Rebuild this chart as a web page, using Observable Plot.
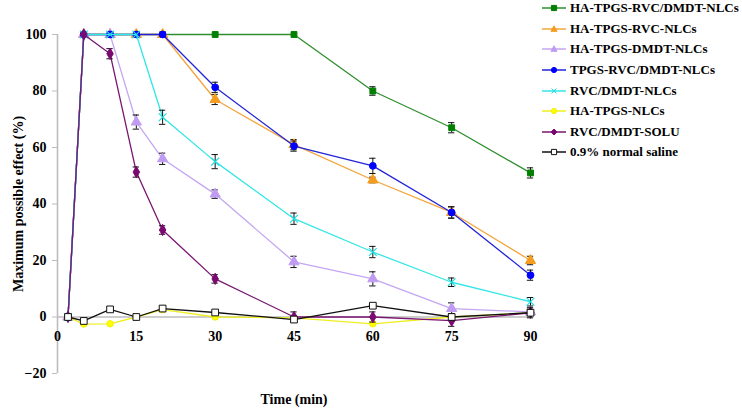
<!DOCTYPE html>
<html><head><meta charset="utf-8">
<script src="https://cdn.jsdelivr.net/npm/d3@7"></script>
<script src="https://cdn.jsdelivr.net/npm/@observablehq/plot@0.6"></script>
<style>
body{margin:0;background:#fff;font-family:'Liberation Serif';font-weight:bold;font-size:14px;}
#wrap{position:relative;width:742px;height:408px;}
#legend{position:absolute;left:542px;top:-2px;color:#000;font-size:13px;}
.row{display:flex;align-items:center;height:20.6px;white-space:nowrap;}
.row svg{margin-right:3px;}
</style></head>
<body><div id="wrap"><div id="chart"></div><div id="legend"></div></div>
<script>
const times = [2, 5, 10, 15, 20, 30, 45, 60, 75, 90];
const seriesNames = ["HA-TPGS-RVC/DMDT-NLCs","HA-TPGS-RVC-NLCs","HA-TPGS-DMDT-NLCs","TPGS-RVC/DMDT-NLCs","RVC/DMDT-NLCs","HA-TPGS-NLCs","RVC/DMDT-SOLU","0.9% normal saline"];
const greenVals   = [0,100,100,100,100,100,100,80,67,51];
const greenErr    = [0,0,0,0,0,0,0,1.5,1.8,1.8];
const orangeVals  = [0,100,100,100,100,77,61,48.5,37,20];
const orangeErr   = [0,0,0,0,0,1.8,1.8,1,2,1.5];
const lavVals     = [0,100,100,69,56,43.5,19.5,13.5,3,1.8];
const lavErr      = [0,0,0,2.5,2,1.5,2,2.5,2,1];
const blueVals    = [0,100,100,100,100,81.3,60.5,53.5,37,14.8];
const blueErr     = [0,0,0,0,0,1.8,1.8,2.7,2,1.8];
const cyanVals    = [0,100,100,100,70.7,55,34.8,23,12.3,5.4];
const cyanErr     = [0,0,0,0,2.5,2.5,2,2,1.5,1.5];
const yellowVals  = [0,-2.5,-2.4,0,2.6,0,-0.3,-2.4,0,1.5];
const yellowErr   = [0,0,0,0,0,0,0,0,0,0];
const purpleVals  = [0,100,93.2,51.3,30.8,13.5,0,0,-1.3,1.5];
const purpleErr   = [0,0,1.8,1.8,1.5,1.5,1.8,1.8,2,1];
const salineVals  = [0,-1.4,2.7,0,3,1.6,-0.9,4,0,1.5];
const salineErr   = [0,0,0,0,0,0,0,0,1.2,1.8];
const xTicks = [0,15,30,45,60,75,90];
const yTicks = [-20,0,20,40,60,80,100];

const styles = [
  {vals: greenVals, err: greenErr, line:"#2f8f2f", fill:"#008000", stroke:"#008000", symbol:"square", r:3.3},
  {vals: orangeVals, err: orangeErr, line:"#f4a43c", fill:"#f39c1e", stroke:"#f39c1e", symbol:"triangle", r:3.8},
  {vals: lavVals, err: lavErr, line:"#c4a6f2", fill:"#bf9cf2", stroke:"#bf9cf2", symbol:"triangle", r:3.8},
  {vals: blueVals, err: blueErr, line:"#2323d8", fill:"#0000ff", stroke:"#0000ff", symbol:"circle", r:3.4},
  {vals: cyanVals, err: cyanErr, line:"#33e6e6", fill:"none", stroke:"#22dede", symbol:"times", r:3.6},
  {vals: yellowVals, err: yellowErr, line:"#eeee22", fill:"#ffff00", stroke:"#f0f000", symbol:"circle", r:3.2},
  {vals: purpleVals, err: purpleErr, line:"#7a1572", fill:"#7a0a70", stroke:"#7a0a70", symbol:"diamond", r:3.4},
  {vals: salineVals, err: salineErr, line:"#111", fill:"#fff", stroke:"#111", symbol:"square", r:3.8}
];

const marks = [];
const gray = "#bdbdbd";
marks.push(Plot.ruleY([0], {stroke: gray, strokeWidth: 1.6}));
marks.push(Plot.ruleX([0], {y1: -20, y2: 100, stroke: gray, strokeWidth: 1.6}));
marks.push(Plot.axisY({ticks: yTicks, tickSize: 5, stroke: gray, tickPadding: 6, fill: "#000",
  label: "Maximum possible effect (%)", labelAnchor: "center", labelArrow: "none", labelOffset: 44}));
marks.push(Plot.text(xTicks, {x: d => d, y: 0, dy: 20, text: d => String(d), fill: "#000"}));
marks.push(Plot.axisX({ticks: [], tickSize: 0, label: "Time (min)", labelAnchor: "center", labelArrow: "none", labelOffset: 30}));

styles.forEach((s, i) => {
  const rows = times.map((t, j) => ({t, v: s.vals[j], e: s.err[j], name: seriesNames[i]}));
  const eb = rows.filter(d => d.e > 0);
  marks.push(Plot.line(rows, {x: "t", y: "v", stroke: s.line, strokeWidth: 1.3}));
  marks.push(Plot.ruleX(eb, {x: "t", y1: d => d.v - d.e, y2: d => d.v + d.e, stroke: "#111", strokeWidth: 1}));
  marks.push(Plot.ruleY(eb, {y: d => d.v - d.e, x1: d => d.t - 0.6, x2: d => d.t + 0.6, stroke: "#111", strokeWidth: 1}));
  marks.push(Plot.ruleY(eb, {y: d => d.v + d.e, x1: d => d.t - 0.6, x2: d => d.t + 0.6, stroke: "#111", strokeWidth: 1}));
  marks.push(Plot.dot(rows, {x: "t", y: "v", symbol: s.symbol, r: s.r, fill: s.fill, stroke: s.stroke, strokeWidth: s.symbol === "times" ? 1.2 : 1}));
});

const chart = Plot.plot({
  width: 742, height: 408,
  marginLeft: 57, marginRight: 212, marginTop: 34, marginBottom: 35,
  x: {domain: [0, 90]},
  y: {domain: [-20, 100]},
  style: {fontFamily: "Liberation Serif", fontWeight: "bold", fontSize: "14px", color: "#000", background: "#fff"},
  marks
});
document.getElementById("chart").appendChild(chart);

const legend = document.getElementById("legend");
const symPath = {
  square: "M-2.6,-2.6h5.2v5.2h-5.2z",
  triangle: "M0,-3.2L3,2.3L-3,2.3z",
  circle: null,
  times: "M-2.5,-2.5L2.5,2.5M-2.5,2.5L2.5,-2.5",
  diamond: "M0,-3L3,0L0,3L-3,0z"
};
styles.forEach((s, i) => {
  const row = document.createElement("div");
  row.className = "row";
  const ns = "http://www.w3.org/2000/svg";
  const svg = document.createElementNS(ns, "svg");
  svg.setAttribute("width", 25); svg.setAttribute("height", 12);
  const ln = document.createElementNS(ns, "line");
  ln.setAttribute("x1", 0); ln.setAttribute("x2", 24); ln.setAttribute("y1", 6); ln.setAttribute("y2", 6);
  ln.setAttribute("stroke", s.line); ln.setAttribute("stroke-width", 1.5);
  svg.appendChild(ln);
  let m;
  if (s.symbol === "circle") {
    m = document.createElementNS(ns, "circle");
    m.setAttribute("cx", 12); m.setAttribute("cy", 6); m.setAttribute("r", 2.6);
  } else {
    m = document.createElementNS(ns, "path");
    m.setAttribute("d", symPath[s.symbol]);
    m.setAttribute("transform", "translate(12,6)");
  }
  m.setAttribute("fill", s.fill); m.setAttribute("stroke", s.stroke); m.setAttribute("stroke-width", 1);
  svg.appendChild(m);
  row.appendChild(svg);
  const span = document.createElement("span");
  span.style.fontFamily = "'Liberation Serif'";
  span.textContent = seriesNames[i];
  row.appendChild(span);
  legend.appendChild(row);
});
</script>
</body></html>
